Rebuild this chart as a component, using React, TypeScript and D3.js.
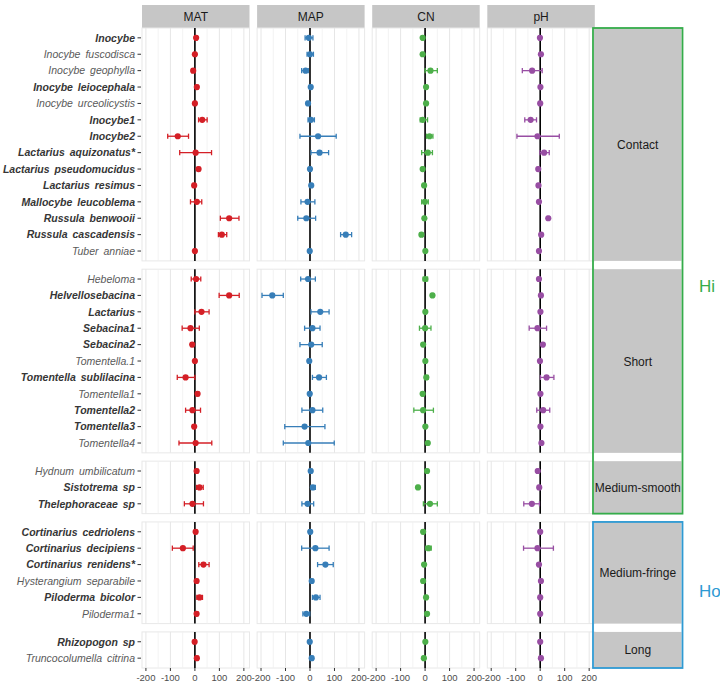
import React from "react";
import * as d3 from "d3";

// ---------- DATA ----------
const taxa = [
  "Inocybe", "Inocybe fuscodisca", "Inocybe geophylla", "Inocybe leiocephala", "Inocybe urceolicystis",
  "Inocybe1", "Inocybe2", "Lactarius aquizonatus*", "Lactarius pseudomucidus", "Lactarius resimus",
  "Mallocybe leucoblema", "Russula benwooii", "Russula cascadensis", "Tuber anniae",
  "Hebeloma", "Helvellosebacina", "Lactarius", "Sebacina1", "Sebacina2", "Tomentella.1",
  "Tomentella sublilacina", "Tomentella1", "Tomentella2", "Tomentella3", "Tomentella4",
  "Hydnum umbilicatum", "Sistotrema sp", "Thelephoraceae sp",
  "Cortinarius cedriolens", "Cortinarius decipiens", "Cortinarius renidens*", "Hysterangium separabile",
  "Piloderma bicolor", "Piloderma1",
  "Rhizopogon sp", "Truncocolumella citrina",
];

const exploration = [
  "Contact", "Contact", "Contact", "Contact", "Contact", "Contact", "Contact", "Contact", "Contact", "Contact",
  "Contact", "Contact", "Contact", "Contact",
  "Short", "Short", "Short", "Short", "Short", "Short", "Short", "Short", "Short", "Short", "Short",
  "Medium-smooth", "Medium-smooth", "Medium-smooth",
  "Medium-fringe", "Medium-fringe", "Medium-fringe", "Medium-fringe", "Medium-fringe", "Medium-fringe",
  "Long", "Long",
];

const explorationTypes = ["Contact", "Short", "Medium-smooth", "Medium-fringe", "Long"];
const hydrophobicity = ["Hi", "Hi", "Hi", "Ho", "Ho"];

const boldTaxa = [
  "Inocybe", "Inocybe leiocephala", "Inocybe1", "Inocybe2", "Lactarius aquizonatus*", "Lactarius pseudomucidus",
  "Lactarius resimus", "Mallocybe leucoblema", "Russula benwooii", "Russula cascadensis",
  "Helvellosebacina", "Lactarius", "Sebacina1", "Sebacina2", "Tomentella sublilacina", "Tomentella2", "Tomentella3",
  "Sistotrema sp", "Thelephoraceae sp",
  "Cortinarius cedriolens", "Cortinarius decipiens", "Cortinarius renidens*", "Piloderma bicolor",
  "Rhizopogon sp",
];

const variables = ["MAT", "MAP", "CN", "pH"];
const varColors = ["#D41F26", "#377EB8", "#4DAF4A", "#984EA3"];
const xTicks = [-200, -100, 0, 100, 200];
const xMinor = [-150, -50, 50, 150];

// [estimate, lower, upper]
const MAT = [
  [5, 0, 10], [0, -4, 4], [-7, -13, -1], [8, 3, 13], [0, -4, 4], [30, 15, 50], [-70, -111, -26],
  [3, -62, 68], [15, 10, 20], [-3, -8, 2], [8, -18, 28], [140, 104, 180], [110, 96, 130], [0, -4, 4],
  [5, -15, 24], [140, 99, 181], [27, 0, 58], [-18, -52, 18], [-11, -16, -6], [0, -4, 4], [-38, -72, 0],
  [11, 6, 16], [-10, -38, 23], [-3, -8, 2], [3, -65, 69],
  [7, 2, 12], [19, 7, 34], [-10, -43, 35],
  [3, -2, 8], [-49, -92, -7], [35, 16, 58], [7, 2, 12], [19, 8, 31], [7, 2, 12],
  [-1, -6, 4], [8, 3, 13],
];
const MAP = [
  [-5, -20, 12], [0, -12, 14], [-18, -34, -7], [3, -2, 8], [-8, -13, -3], [4, -8, 18], [33, -41, 107],
  [39, 4, 76], [0, -5, 5], [5, 0, 10], [-10, -37, 20], [-15, -50, 23], [146, 125, 170], [-1, -6, 4],
  [-8, -38, 22], [-154, -196, -109], [42, 4, 78], [10, -22, 41], [5, -41, 50], [-3, -8, 2], [37, 10, 67],
  [-1, -6, 4], [10, -33, 52], [-22, -103, 61], [-7, -109, 99],
  [3, -2, 8], [12, 4, 22], [-10, -33, 15],
  [1, -4, 6], [22, -34, 78], [63, 31, 95], [7, 2, 12], [24, 10, 41], [-15, -29, -1],
  [-1, -6, 4], [7, 2, 12],
];
const CN = [
  [-10, -14, -6], [-10, -14, -6], [22, 0, 50], [4, 0, 8], [4, 0, 8], [-10, -20, 10], [18, 6, 32],
  [11, -14, 30], [-10, -14, -6], [-4, -8, 0], [-1, -14, 13], [-3, -7, 1], [-15, -19, -11], [1, -3, 5],
  [1, -8, 10], [30, 26, 34], [1, -3, 5], [0, -23, 24], [-8, -12, -4], [1, -3, 5], [5, -2, 12],
  [-10, -14, -6], [-8, -46, 34], [1, -3, 5], [11, 7, 15],
  [8, 4, 12], [-29, -33, -25], [20, -7, 50],
  [-8, -12, -4], [14, 3, 25], [-4, -8, 0], [-8, -12, -4], [4, 0, 8], [8, 4, 12],
  [1, -3, 5], [-5, -9, -1],
];
const PH = [
  [-1, -5, 3], [3, -1, 7], [-33, -73, 8], [1, -3, 5], [0, -4, 4], [-39, -63, -15], [-11, -95, 78],
  [16, -1, 37], [-8, -12, -4], [-7, -11, -3], [-5, -9, -1], [33, 29, 37], [4, 0, 8], [-5, -9, -1],
  [-5, -9, -1], [3, -1, 7], [1, -3, 5], [-11, -45, 26], [11, 7, 15], [-1, -5, 3], [26, 1, 56],
  [1, -3, 5], [12, -14, 39], [1, -3, 5], [5, 1, 9],
  [-10, -14, -6], [-4, -8, 0], [-34, -67, -3],
  [0, -4, 4], [-11, -68, 54], [-5, -9, -1], [3, -1, 7], [0, -4, 4], [0, -4, 4],
  [0, -4, 4], [3, -1, 7],
];
const seriesValues = [MAT, MAP, CN, PH];

// ---------- LAYOUT ----------
const W = 720, H = 684;
const FONT = "'Liberation Sans', Arial, Helvetica, sans-serif";
const panelLeft = 142;
const panelW = 107.5;
const panelGap = 7.6;
const topY = 28;
const rowStep = 16.4;
const rowGap = 8.3;
const stripX = 593;
const stripW = 89.5;
const hydroColors: Record<string, string> = { Hi: "#35AC4A", Ho: "#2E9AD3" };
const hydroLabelCenterY: Record<string, number> = { Hi: 286, Ho: 591 };

export default function App() {
  const x = d3.scaleLinear().domain([-216, 223]).range([0, panelW]);

  let yCursor = topY;
  const rows = explorationTypes.map((g) => {
    const names = taxa.filter((_, i) => exploration[i] === g);
    const h = (names.length + 0.2) * rowStep;
    const y = d3.scalePoint<string>().domain(names).range([yCursor, yCursor + h]).padding(0.6);
    const r = { g, names, top: yCursor, h, y };
    yCursor += h + rowGap;
    return r;
  });
  const bottomY = rows[rows.length - 1].top + rows[rows.length - 1].h;

  const colX = (j: number) => panelLeft + j * (panelW + panelGap);
  const yOf = (name: string) => {
    const r = rows.find((rr) => rr.names.includes(name))!;
    return r.y(name)!;
  };

  const hydroGroups = ["Hi", "Ho"].map((hg) => {
    const rs = rows.filter((_, i) => hydrophobicity[i] === hg);
    const t = rs[0].top;
    const b = rs[rs.length - 1].top + rs[rs.length - 1].h;
    return { hg, t, b };
  });

  const fmt = (t: number) => (t < 0 ? "-" + Math.abs(t) : String(t));

  return (
    <svg width={W} height={H} style={{ position: "absolute", left: 0, top: 0, background: "#fff" }} fontFamily={FONT}>
      <rect width={W} height={H} fill="#fff" />
      {variables.map((v, j) => (
        <g key={v}>
          <rect x={colX(j)} y={5} width={panelW} height={topY - 5} fill="#C6C6C6" />
          <text x={colX(j) + panelW / 2} y={21} textAnchor="middle" fontSize={12} fill="#1A1A1A">{v}</text>
        </g>
      ))}
      {rows.map((r) =>
        variables.map((v, j) => {
          const px = colX(j);
          return (
            <g key={r.g + v}>
              <rect x={px} y={r.top} width={panelW} height={r.h} fill="#fff" stroke="#E8E8E8" strokeWidth={1} />
              {xMinor.map((t) => (
                <line key={"m" + t} x1={px + x(t)} x2={px + x(t)} y1={r.top} y2={r.top + r.h} stroke="#F0F0F0" strokeWidth={0.8} />
              ))}
              {xTicks.map((t) => (
                <line key={"M" + t} x1={px + x(t)} x2={px + x(t)} y1={r.top} y2={r.top + r.h} stroke="#E6E6E6" strokeWidth={1} />
              ))}
              <line x1={px + x(0)} x2={px + x(0)} y1={r.top} y2={r.top + r.h} stroke="#000" strokeWidth={1.6} />
              {r.names.map((name) => {
                const i = taxa.indexOf(name);
                const [m, lo, hi] = seriesValues[j][i];
                const yy = r.y(name)!;
                const c = varColors[j];
                return (
                  <g key={name}>
                    <line x1={px + x(lo)} x2={px + x(hi)} y1={yy} y2={yy} stroke={c} strokeWidth={1.3} />
                    <line x1={px + x(lo)} x2={px + x(lo)} y1={yy - 2.6} y2={yy + 2.6} stroke={c} strokeWidth={1.3} />
                    <line x1={px + x(hi)} x2={px + x(hi)} y1={yy - 2.6} y2={yy + 2.6} stroke={c} strokeWidth={1.3} />
                    <circle cx={px + x(m)} cy={yy} r={3.1} fill={c} />
                  </g>
                );
              })}
            </g>
          );
        })
      )}
      {taxa.map((name) => {
        const yy = yOf(name);
        const bold = boldTaxa.includes(name);
        return (
          <g key={name}>
            <text x={135} y={yy + 3.8} textAnchor="end" fontSize={10.5} fontStyle="italic" fontWeight={bold ? "bold" : "normal"}
              fill={bold ? "#363636" : "#5A5A5A"} style={{ wordSpacing: "2px" }}>{name}</text>
            <line x1={137.5} x2={141} y1={yy} y2={yy} stroke="#333" strokeWidth={1} />
          </g>
        );
      })}
      {variables.map((v, j) => (
        <g key={"ax" + v}>
          {xTicks.map((t) => (
            <g key={t}>
              <line x1={colX(j) + x(t)} x2={colX(j) + x(t)} y1={bottomY} y2={bottomY + 3} stroke="#333" strokeWidth={1} />
              <text x={colX(j) + x(t)} y={bottomY + 13} textAnchor="middle" fontSize={9.5} fill="#4D4D4D">{fmt(t)}</text>
            </g>
          ))}
        </g>
      ))}
      {rows.map((r) => (
        <g key={"s" + r.g}>
          <rect x={stripX + 1} y={r.top} width={stripW - 2} height={r.h} fill="#C6C6C6" />
          <text x={stripX + stripW / 2} y={r.top + r.h / 2 + 4.5} textAnchor="middle" fontSize={12} fill="#1A1A1A">{r.g}</text>
        </g>
      ))}
      {hydroGroups.map(({ hg, t, b }) => (
        <g key={hg}>
          <rect x={stripX} y={t} width={stripW} height={b - t} fill="none" stroke={hydroColors[hg]} strokeWidth={1.8} />
          <text x={699} y={hydroLabelCenterY[hg] + 6} fontSize={17} fill={hydroColors[hg]}>{hg}</text>
        </g>
      ))}
    </svg>
  );
}
